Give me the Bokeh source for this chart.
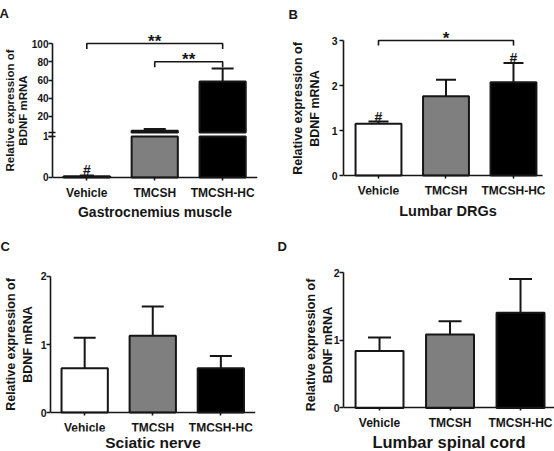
import numpy as np
from bokeh.plotting import figure
from bokeh.models import Range1d, LinearAxis, FixedTicker, Title
from bokeh.layouts import row, column
from bokeh.embed import file_html
from bokeh.resources import INLINE
from bokeh.core.properties import value

FONT = "Liberation Sans"
INK = "#161616"

categories = ["Vehicle", "TMCSH", "TMCSH-HC"]
bar_fill = ["#ffffff", "#7f7f7f", "#000000"]
y_title = "Relative expression of\nBDNF mRNA"

# Panel A - Gastrocnemius muscle (broken y axis)
gastro_mean = [0.03, 4.5, 58.4]
gastro_err = [0.02, 1.7, 14.2]
gastro_low_ticks = [0, 1]
gastro_high_ticks = [20, 40, 60, 80, 100]
gastro_marks = ["#", "", ""]
gastro_bracket_from = ["Vehicle", "TMCSH"]
gastro_bracket_to = ["TMCSH-HC", "TMCSH-HC"]
gastro_bracket_y = [100, 80]
gastro_bracket_text = ["**", "**"]

# Panel B - Lumbar DRGs
drg_mean = [1.15, 1.76, 2.07]
drg_err = [0.05, 0.37, 0.43]
drg_ticks = [0, 1, 2, 3]
drg_marks = ["#", "", "#"]
drg_bracket_from = ["Vehicle"]
drg_bracket_to = ["TMCSH-HC"]
drg_bracket_y = [3]
drg_bracket_text = ["*"]

# Panel C - Sciatic nerve
sciatic_mean = [0.65, 1.13, 0.65]
sciatic_err = [0.45, 0.43, 0.18]
sciatic_ticks = [0, 1, 2]

# Panel D - Lumbar spinal cord
spinal_mean = [0.84, 1.085, 1.405]
spinal_err = [0.20, 0.195, 0.50]
spinal_ticks = [0, 1, 2]

xpos = list(range(1, len(categories) + 1))
pos = {c: i + 1 for i, c in enumerate(categories)}
BAR_W = 0.68


def style_axis(ax, tick_size="10.5px"):
    ax.axis_line_color = INK
    ax.axis_line_width = 1.6
    ax.major_tick_line_color = INK
    ax.major_tick_line_width = 1.6
    ax.major_tick_in = 0
    ax.major_tick_out = 4
    ax.minor_tick_line_color = None
    ax.major_label_text_font = FONT
    ax.major_label_text_font_style = "bold"
    ax.major_label_text_color = INK
    ax.major_label_text_font_size = tick_size
    ax.major_label_standoff = 0
    ax.axis_label_text_font = FONT
    ax.axis_label_text_font_style = "bold"
    ax.axis_label_text_color = INK


def make_fig(letter, letter_x, letter_standoff, w, h, xr, yr, borders, lab_standoff):
    left, right, top, bottom = borders
    p = figure(width=w, height=h, x_range=Range1d(*xr), y_range=Range1d(*yr),
               output_backend="svg", toolbar_location=None, y_axis_location=None,
               min_border_left=left, min_border_right=right,
               min_border_top=top, min_border_bottom=bottom, title=letter)
    p.grid.visible = False
    p.outline_line_color = None
    p.background_fill_color = "white"
    p.border_fill_color = "white"
    p.title.align = "left"
    p.title.offset = letter_x - left
    p.title.standoff = letter_standoff
    p.title.text_font = FONT
    p.title.text_font_style = "bold"
    p.title.text_font_size = "13px"
    p.title.text_color = INK
    ax = p.xaxis[0]
    ax.ticker = FixedTicker(ticks=xpos)
    ax.major_label_overrides = {x: c for x, c in zip(xpos, categories)}
    style_axis(ax, "12px")
    ax.major_tick_out = 3
    ax.major_label_standoff = lab_standoff
    return p


def x_title_below(p, text, size, standoff):
    # x axis sits at y = 0 inside the frame; the title goes below the frame
    p.xaxis.fixed_location = 0
    p.add_layout(Title(text=text, align="center", standoff=standoff, text_font=FONT,
                       text_font_style="bold", text_font_size=size, text_color=INK),
                 "below")


def add_errors(p, xs, means, errs, cap, range_name="default"):
    upper = [m + e for m, e in zip(means, errs)]
    p.segment(x0=xs, y0=means, x1=xs, y1=upper, line_color=INK, line_width=2,
              y_range_name=range_name)
    p.scatter(x=xs, y=upper, marker="dash", size=cap, line_color=INK, line_width=2,
              y_range_name=range_name)


def add_brackets(p, froms, tos, ys, texts, drop, size, range_name="default"):
    xs = [[pos[a], pos[a], pos[b], pos[b]] for a, b in zip(froms, tos)]
    yy = [[y - drop, y, y, y - drop] for y in ys]
    p.multi_line(xs=xs, ys=yy, line_color=INK, line_width=1.6, y_range_name=range_name)
    p.text(x=[(pos[a] + pos[b]) / 2 for a, b in zip(froms, tos)], y=ys, text=texts,
           text_align="center", text_baseline="alphabetic", y_offset=-2,
           text_font=value(FONT), text_font_style="bold", text_font_size=size,
           text_color=INK, y_range_name=range_name)


def add_marks(p, xs, means, errs, marks, range_name="default"):
    upper = [m + e for m, e in zip(means, errs)]
    p.text(x=xs, y=upper, text=marks, text_align="center", text_baseline="alphabetic",
           y_offset=-5, text_font=value(FONT), text_font_style="bold",
           text_font_size="14px", text_color=INK, y_range_name=range_name)


def add_y_axis(p, ticks, standoff, label_standoff=0):
    ax = LinearAxis(ticker=FixedTicker(ticks=ticks), bounds=(min(ticks), max(ticks)))
    style_axis(ax)
    ax.major_label_standoff = label_standoff
    ax.axis_label = y_title
    ax.axis_label_text_font_size = "12.5px"
    ax.axis_label_standoff = standoff
    p.add_layout(ax, "left")


# ---------------- Panel A (broken axis) ----------------
LOW_MAX = 1.0     # top of the lower axis segment
UP_MIN = 2.5      # bottom of the upper axis segment
pA = make_fig("A", -2, 6, 277, 225, (0.495, 3.513), (-68.77, 121.92), (51, 20, 23, 28), 6)
pA.extra_y_ranges = {"low": Range1d(-0.4878, 3.756)}
up_r, low_r = pA.y_range, pA.extra_y_ranges["low"]
pA.xaxis.y_range_name = "low"
x_title_below(pA, "Gastrocnemius muscle", "14px", 9)


def low_to_up(v):
    return up_r.start + (v - low_r.start) * (up_r.end - up_r.start) / (low_r.end - low_r.start)


ga_mean = np.array(gastro_mean)
ga_err = np.array(gastro_err)
gx = np.array(xpos)
hi = ga_mean > UP_MIN
pA.vbar(x=xpos, top=np.minimum(ga_mean, LOW_MAX), bottom=0, width=BAR_W,
        fill_color=bar_fill, line_color=INK, line_width=2, y_range_name="low")
pA.vbar(x=gx[hi], top=ga_mean[hi], bottom=UP_MIN, width=BAR_W,
        fill_color=list(np.array(bar_fill)[hi]), line_color=INK, line_width=2)
add_errors(pA, gx[~hi], ga_mean[~hi], ga_err[~hi], 14, "low")
add_errors(pA, gx[hi], ga_mean[hi], ga_err[hi], 22)
add_marks(pA, gx[~hi], ga_mean[~hi], ga_err[~hi], list(np.array(gastro_marks)[~hi]), "low")
add_brackets(pA, gastro_bracket_from, gastro_bracket_to, gastro_bracket_y,
             gastro_bracket_text, 6, "17px")

low_pos = [low_to_up(v) for v in gastro_low_ticks]
overrides = {u: str(v) for u, v in zip(low_pos, gastro_low_ticks)}
overrides.update({t: str(t) for t in gastro_high_ticks})
a_ax = LinearAxis(ticker=FixedTicker(ticks=low_pos + gastro_high_ticks,
                                     minor_ticks=[low_to_up(LOW_MAX), UP_MIN]),
                  bounds=(low_pos[0], max(gastro_high_ticks)),
                  major_label_overrides=overrides)
style_axis(a_ax, "10px")
a_ax.minor_tick_line_color = INK
a_ax.minor_tick_line_width = 1.6
a_ax.minor_tick_in = 3
a_ax.minor_tick_out = 4
a_ax.axis_label = y_title
a_ax.axis_label_text_font_size = "11.5px"
a_ax.axis_label_text_line_height = 1.1
a_ax.axis_label_standoff = 0
pA.add_layout(a_ax, "left")

# ---------------- Panel B ----------------
pB = make_fig("B", 11, 2, 277, 225, (0.4815, 3.578), (-0.422, 3.4), (66, 2, 22, 31), 5)
x_title_below(pB, "Lumbar DRGs", "14.5px", 12)
pB.xaxis.bounds = (0.4815, 3.43)
pB.vbar(x=xpos, top=drg_mean, bottom=0, width=BAR_W, fill_color=bar_fill,
        line_color=INK, line_width=2)
add_errors(pB, xpos, drg_mean, drg_err, 20)
add_marks(pB, xpos, drg_mean, drg_err, drg_marks)
add_brackets(pB, drg_bracket_from, drg_bracket_to, drg_bracket_y, drg_bracket_text,
             0.11, "17px")
add_y_axis(pB, drg_ticks, 7, 2)

# ---------------- Panel C ----------------
pC = make_fig("C", -2, 8, 277, 226, (0.498, 3.509), (-0.279, 2.279), (48, 22, 32, 20), 5)
x_title_below(pC, "Sciatic nerve", "15.5px", 0)
pC.vbar(x=xpos, top=sciatic_mean, bottom=0, width=BAR_W, fill_color=bar_fill,
        line_color=INK, line_width=2)
add_errors(pC, xpos, sciatic_mean, sciatic_err, 22)
add_y_axis(pC, sciatic_ticks, 3, 0)

# ---------------- Panel D ----------------
pD = make_fig("D", 0, 11, 277, 226, (0.489, 3.482), (-0.333, 2.193), (66, 0, 34, 21), 5)
x_title_below(pD, "Lumbar spinal cord", "16.5px", 0)
pD.vbar(x=xpos, top=spinal_mean, bottom=0, width=BAR_W, fill_color=bar_fill,
        line_color=INK, line_width=2)
add_errors(pD, xpos, spinal_mean, spinal_err, 23)
add_y_axis(pD, spinal_ticks, -4, 0)

layout = column(row(column(pA), column(pB)), row(column(pC), column(pD)))
open("out.html", "w").write(file_html(layout, INLINE))
